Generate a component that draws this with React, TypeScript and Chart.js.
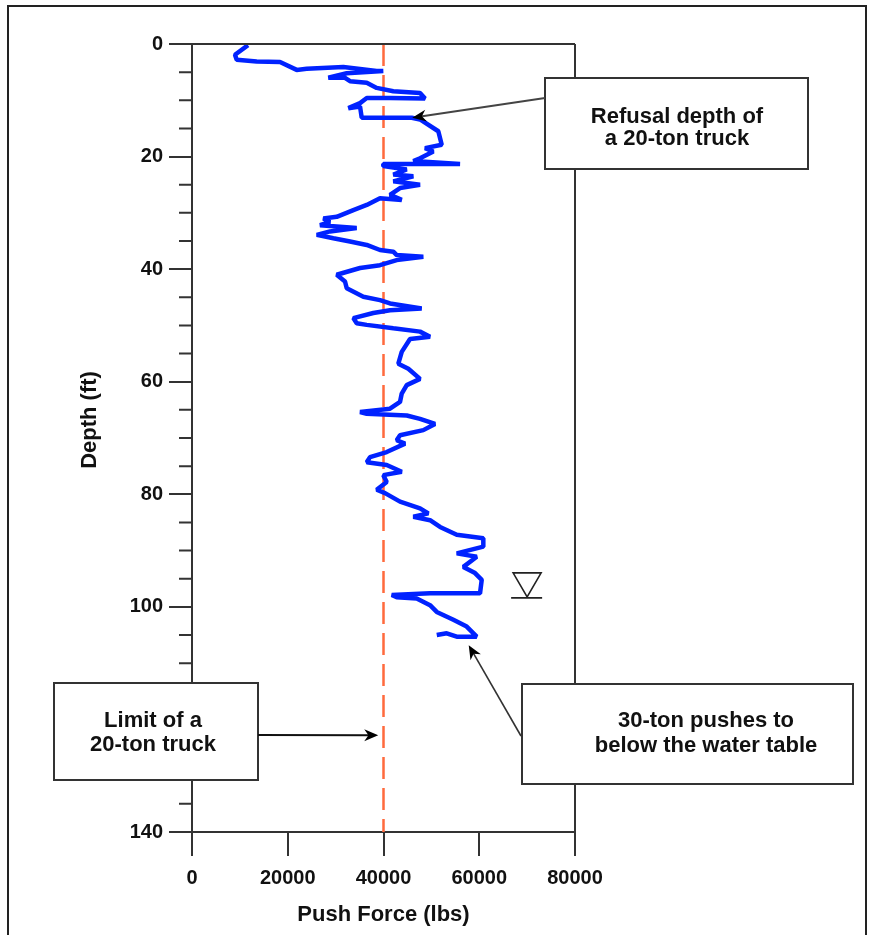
import React, { useEffect, useRef } from 'react';
import { Chart, registerables } from 'chart.js';

Chart.register(...registerables);

// ---- data ----
const depthFt: number[] = [
  0.2, 1.9, 2.8, 3.1, 3.2, 4.6, 4.4, 4.1, 4.8, 4.8,
  5.2, 6.0, 6.0, 6.6, 6.9, 7.8, 8.4, 8.7, 9.7, 9.6,
  9.6, 10.5, 11.4, 11.1, 13.1, 13.1, 13.4, 15.5, 17.9, 18.5,
  19.1, 20.3, 20.8, 21.3, 21.3, 21.7, 22.3, 23.2, 23.5, 24.4,
  25.0, 25.6, 26.8, 27.7, 27.4, 28.6, 29.5, 30.7, 31.0, 31.6,
  32.2, 32.7, 33.3, 33.9, 34.5, 35.1, 35.7, 36.6, 36.9, 37.5,
  37.8, 38.4, 39.3, 39.8, 41.0, 42.2, 43.4, 44.9, 45.5, 46.1,
  47.0, 47.3, 47.8, 48.7, 49.6, 49.9, 50.5, 51.1, 52.0,
  52.4, 54.7, 56.8, 57.7, 59.5, 60.6, 62.1, 63.6, 64.8, 65.4,
  65.7, 66.0, 66.6, 67.5, 68.6, 69.5, 70.4, 71.0, 72.5, 73.4,
  74.3, 74.8, 76.0, 76.6, 77.8, 79.2, 79.8, 81.3, 82.5, 83.4,
  84.0, 84.6, 85.8, 87.2, 87.8, 89.3, 90.5, 91.1, 92.9, 94.0,
  95.2, 97.6, 97.6, 97.9, 98.3, 98.5, 99.7, 100.9, 102.3, 103.5,
  105.3, 105.3, 104.7, 105.0,
];

const pushForceLbs: number[] = [
  11700, 8980, 9340, 13520, 18380, 21870, 23960, 31610, 38580, 39960,
  32320, 28470, 31960, 33010, 36500, 38580, 42050, 47630, 48670, 41360,
  36500, 35100, 32650, 35100, 35450, 45900, 47630, 51450, 52160, 48670,
  50410, 47630, 46230, 55990, 39960, 39960, 44850, 42050, 46230, 42050,
  47630, 43450, 41360, 43810, 39270, 36500, 33700, 30230, 27430, 28830,
  26740, 34400, 28830, 26050, 29520, 33010, 36500, 39270, 42050, 42760,
  48320, 42760, 39270, 35100, 30230, 31960, 32320, 35790, 39270, 41360,
  47980, 41360, 37870, 33700, 34400, 36500, 42050, 47630, 49720,
  45540, 43810, 43100, 45190, 47630, 44850, 43810, 43450, 41360, 35100,
  36500, 44850, 47630, 50760, 48320, 43450, 42760, 44500, 40670, 37180,
  36500, 40670, 43810, 39960, 40670, 38580, 40320, 43450, 47630, 49360,
  46230, 49720, 51810, 55300, 60850, 60850, 55300, 59480, 56680, 59120,
  60520, 60160, 49720, 41720, 42760, 46940, 49720, 51120, 54590, 57380,
  59470, 55300, 53210, 51120,
];

const truckLimitForce = 40000;
const truckLimitDepths = [0, 140];

const depthRange = [0, 140];
const depthMajorStep = 20;
const depthMinorStep = 5;
const forceRange = [0, 80000];
const forceStep = 20000;

const refusalPoint = { force: 46000, depth: 13.1 };
const limitPoint = { force: 38900, depth: 122.8 };
const pushEndPoint = { force: 57800, depth: 106.8 };
const waterTable = { force: 70000, depth: 98.4 };

const FONT = '"Liberation Sans", Arial, sans-serif';
const AXIS = '#333333';
const TEXT = '#111111';

function drawArrow(ctx: CanvasRenderingContext2D, x0: number, y0: number, x1: number, y1: number, color: string, lw: number) {
  const ang = Math.atan2(y1 - y0, x1 - x0);
  const len = 14, half = 6;
  ctx.save();
  ctx.strokeStyle = color;
  ctx.lineWidth = lw;
  ctx.beginPath();
  ctx.moveTo(x0, y0);
  ctx.lineTo(x1 - Math.cos(ang) * len * 0.6, y1 - Math.sin(ang) * len * 0.6);
  ctx.stroke();
  ctx.fillStyle = '#000';
  ctx.beginPath();
  ctx.moveTo(x1, y1);
  ctx.lineTo(x1 - Math.cos(ang) * len - Math.sin(ang) * half, y1 - Math.sin(ang) * len + Math.cos(ang) * half);
  ctx.lineTo(x1 - Math.cos(ang) * len * 0.7, y1 - Math.sin(ang) * len * 0.7);
  ctx.lineTo(x1 - Math.cos(ang) * len + Math.sin(ang) * half, y1 - Math.sin(ang) * len - Math.cos(ang) * half);
  ctx.closePath();
  ctx.fill();
  ctx.restore();
}

function drawBox(ctx: CanvasRenderingContext2D, l: number, t: number, r: number, b: number, lines: string[], cx: number, baselines: number[]) {
  ctx.save();
  ctx.fillStyle = '#fff';
  ctx.fillRect(l, t, r - l, b - t);
  ctx.strokeStyle = AXIS;
  ctx.lineWidth = 2;
  ctx.strokeRect(l, t, r - l, b - t);
  ctx.fillStyle = TEXT;
  ctx.font = `bold 22px ${FONT}`;
  ctx.textAlign = 'center';
  ctx.textBaseline = 'alphabetic';
  lines.forEach((s, i) => ctx.fillText(s, cx, baselines[i]));
  ctx.restore();
}

const decorPlugin = {
  id: 'decor',
  afterDraw(chart: any) {
    const { ctx, chartArea, scales } = chart;
    const xs = scales.x, ys = scales.y;
    const { left, right, top, bottom } = chartArea;
    ctx.save();
    // frame top & right
    ctx.strokeStyle = AXIS;
    ctx.lineWidth = 2;
    ctx.beginPath();
    ctx.moveTo(left, top);
    ctx.lineTo(right, top);
    ctx.moveTo(right, top);
    ctx.lineTo(right, bottom + 24);
    ctx.stroke();
    // minor depth ticks
    ctx.beginPath();
    for (let v = depthRange[0]; v <= depthRange[1]; v += depthMinorStep) {
      if (v % depthMajorStep === 0) continue;
      const y = ys.getPixelForValue(v);
      ctx.moveTo(left - 13, y);
      ctx.lineTo(left, y);
    }
    ctx.stroke();
    // y title
    ctx.fillStyle = TEXT;
    ctx.font = `bold 22px ${FONT}`;
    ctx.textAlign = 'center';
    ctx.textBaseline = 'middle';
    ctx.translate(90, 420);
    ctx.rotate(-Math.PI / 2);
    ctx.fillText('Depth (ft)', 0, 0);
    ctx.restore();

    // water table symbol
    const wx = xs.getPixelForValue(waterTable.force);
    const wy = ys.getPixelForValue(waterTable.depth);
    ctx.save();
    ctx.strokeStyle = '#222';
    ctx.lineWidth = 1.6;
    ctx.beginPath();
    ctx.moveTo(wx - 14, wy - 25);
    ctx.lineTo(wx + 14, wy - 25);
    ctx.lineTo(wx, wy - 1);
    ctx.closePath();
    ctx.moveTo(wx - 16, wy);
    ctx.lineTo(wx + 15, wy);
    ctx.stroke();
    ctx.restore();

    // annotations
    drawBox(ctx, 545, 78, 808, 169, ['Refusal depth of', 'a 20-ton truck'], 677, [123, 145]);
    drawArrow(ctx, 545, 98, xs.getPixelForValue(refusalPoint.force), ys.getPixelForValue(refusalPoint.depth), '#444', 2);

    drawBox(ctx, 54, 683, 258, 780, ['Limit of a', '20-ton truck'], 153, [727, 751]);
    drawArrow(ctx, 258, 735, xs.getPixelForValue(limitPoint.force), ys.getPixelForValue(limitPoint.depth), '#111', 2);

    drawBox(ctx, 522, 684, 853, 784, ['30-ton pushes to', 'below the water table'], 706, [727, 752]);
    drawArrow(ctx, 521, 736, xs.getPixelForValue(pushEndPoint.force), ys.getPixelForValue(pushEndPoint.depth), '#333', 1.6);

    // outer frame
    ctx.save();
    ctx.strokeStyle = '#222';
    ctx.lineWidth = 2;
    ctx.strokeRect(8, 6, 858, 940);
    ctx.restore();
  },
};

export default function App() {
  const ref = useRef<HTMLCanvasElement | null>(null);
  useEffect(() => {
    if (!ref.current) return;
    const curve = depthFt.map((d, i) => ({ x: pushForceLbs[i], y: d }));
    const limit = truckLimitDepths.map((d) => ({ x: truckLimitForce, y: d }));
    const chart = new Chart(ref.current, {
      type: 'scatter',
      data: {
        datasets: [
          {
            label: 'Push force',
            data: curve,
            showLine: true,
            borderColor: '#0022ff',
            backgroundColor: '#0022ff',
            borderWidth: 4.5,
            borderJoinStyle: 'bevel',
            pointRadius: 0,
            tension: 0,
            order: 0,
          },
          {
            label: '20-ton limit',
            data: limit,
            showLine: true,
            borderColor: '#ff6a3d',
            borderWidth: 2.5,
            borderDash: [22, 9],
            pointRadius: 0,
            order: 1,
          },
        ],
      },
      options: {
        animation: false,
        responsive: false,
        devicePixelRatio: 1,
        layout: { padding: { top: 44, right: 295, bottom: 0, left: 0 } },
        plugins: { legend: { display: false }, tooltip: { enabled: false } },
        scales: {
          x: {
            type: 'linear',
            position: 'bottom',
            min: forceRange[0],
            max: forceRange[1],
            ticks: {
              stepSize: forceStep,
              color: TEXT,
              font: { family: FONT, size: 20, weight: 'bold' },
              padding: 10,
              maxRotation: 0,
              callback: (v: any) => String(v),
            },
            grid: { drawOnChartArea: false, tickLength: 24, color: AXIS, lineWidth: 2 },
            border: { color: AXIS, width: 2 },
            title: {
              display: true,
              text: 'Push Force (lbs)',
              color: TEXT,
              font: { family: FONT, size: 22, weight: 'bold' },
              padding: { top: 0, bottom: 7 },
            },
            afterFit: (s: any) => { s.height = 103; },
          },
          y: {
            type: 'linear',
            position: 'left',
            reverse: true,
            min: depthRange[0],
            max: depthRange[1],
            ticks: {
              stepSize: depthMajorStep,
              color: TEXT,
              font: { family: FONT, size: 20, weight: 'bold' },
              padding: 6,
            },
            grid: { drawOnChartArea: false, tickLength: 23, color: AXIS, lineWidth: 2 },
            border: { color: AXIS, width: 2 },
            afterFit: (s: any) => { s.width = 192; },
          },
        },
      },
      plugins: [decorPlugin],
    } as any);
    return () => chart.destroy();
  }, []);
  return (
    <div style={{ position: 'absolute', left: 0, top: 0, width: 870, height: 935, background: '#fff' }}>
      <canvas ref={ref} width={870} height={935} style={{ display: 'block', width: 870, height: 935 }} />
    </div>
  );
}
